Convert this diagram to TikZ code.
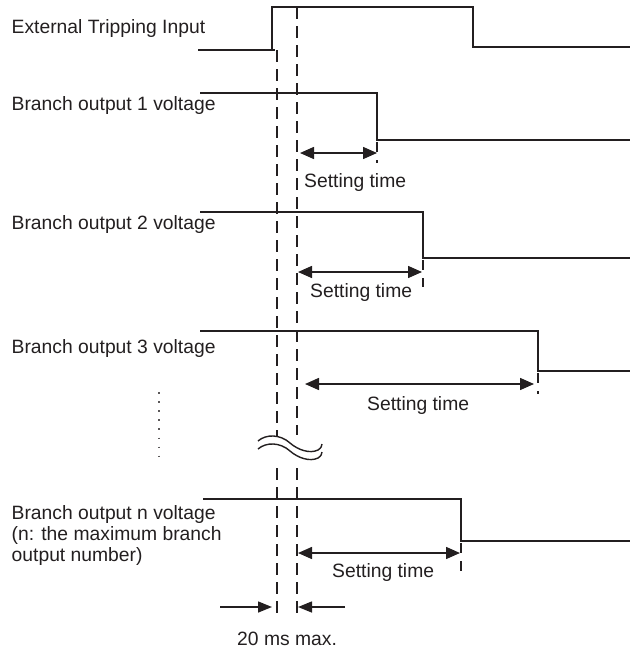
\documentclass[tikz,border=0pt]{standalone}
\usepackage{fontspec}
\setmainfont{Liberation Sans}
\usetikzlibrary{arrows.meta}
\definecolor{ink}{RGB}{35,31,32}
\begin{document}
\begin{tikzpicture}[x=1pt,y=-1pt,
  sig/.style={line width=1.5pt, draw=ink, line join=miter},
  guide/.style={line width=1.4pt, draw=ink, dash pattern=on 12pt off 7pt},
  tailline/.style={line width=1.3pt, draw=ink, dash pattern=on 10pt off 8pt, dash phase=0pt},
  dimarrow/.style={line width=1.5pt, draw=ink, {Triangle[length=14pt,width=12pt]}-{Triangle[length=14pt,width=12pt]}},
  onearrow/.style={line width=1.5pt, draw=ink, -{Triangle[length=14pt,width=11pt]}},
  lbl/.style={font=\fontsize{19.3}{21}\selectfont, text=ink, inner sep=0pt, anchor=base west},
  wave/.style={line width=1.4pt, draw=ink},
  dots/.style={line width=1.6pt, draw=ink!75, dash pattern=on 1.6pt off 7.5pt}]
\useasboundingbox (0,0) rectangle (637,653);

% labels
\node[lbl] (tIn) at (11.5,33) {External Tripping Input};
\node[lbl] (tB1) at (11.5,110) {Branch output 1 voltage};
\node[lbl] (tB2) at (11.5,229) {Branch output 2 voltage};
\node[lbl] (tB3) at (11.5,353) {Branch output 3 voltage};
\node[lbl] (tBn1) at (11.5,519) {Branch output n voltage};
\node[lbl] (tBn2) at (11.5,540) {(n: the maximum branch};
\node[lbl] (tBn3) at (11.5,561) {output number)};

% external tripping input
\coordinate (inA) at (198,50);
\coordinate (inB) at (275,50);
\coordinate (inR) at (272,50);
\coordinate (inH) at (473,7);
\coordinate (inE) at (630,47);
\draw[sig] (inA) -- (inB);
\draw[sig] (inR) |- (inH) |- (inE);

% guide lines
\coordinate (gL0) at (277,50);
\coordinate (gL1) at (277,437);
\coordinate (gL2) at (277,468);
\coordinate (gL3) at (277,615);
\coordinate (gR0) at (297,7);
\coordinate (gR1) at (297,435);
\coordinate (gR2) at (297,468);
\coordinate (gR3) at (297,615);
\draw[guide] (gL0) -- (gL1);
\draw[guide] (gL2) -- (gL3);
\draw[guide] (gR0) -- (gR1);
\draw[guide] (gR2) -- (gR3);

% break symbol
\draw[wave] (258,441) .. controls (266,434) and (280,434) .. (290,443)
  .. controls (298,450) and (310,454) .. (318,450)
  .. controls (321,448) and (322,446) .. (322,444);
\draw[wave] (258,449) .. controls (266,442) and (280,442) .. (290,451)
  .. controls (298,458) and (310,462) .. (318,458)
  .. controls (321,456) and (322,454) .. (322,452);

% vertical dots
\coordinate (d0) at (159,392);
\coordinate (d1) at (159,458);
\draw[dots] (d0) -- (d1);

% branch 1
\coordinate (b1A) at (200,93);
\coordinate (b1F) at (377,93);
\coordinate (b1E) at (630,140);
\draw[sig] (b1A) -- (b1F) |- (b1E);
\coordinate (t1a) at (377,142);
\coordinate (t1b) at (377,163);
\draw[tailline] (t1a) -- (t1b);
\coordinate (a1L) at (300,153);
\coordinate (a1R) at (377,153);
\draw[dimarrow] (a1L) -- (a1R);
\node[lbl] (s1) at (304,187) {Setting time};

% branch 2
\coordinate (b2A) at (200,212);
\coordinate (b2F) at (423,212);
\coordinate (b2E) at (630,258);
\draw[sig] (b2A) -- (b2F) |- (b2E);
\coordinate (t2a) at (423,260);
\coordinate (t2b) at (423,287);
\draw[tailline] (t2a) -- (t2b);
\coordinate (a2L) at (298,272);
\coordinate (a2R) at (422,272);
\draw[dimarrow] (a2L) -- (a2R);
\node[lbl] (s2) at (310,297) {Setting time};

% branch 3
\coordinate (b3A) at (200,331);
\coordinate (b3F) at (538,331);
\coordinate (b3E) at (630,371);
\draw[sig] (b3A) -- (b3F) |- (b3E);
\coordinate (t3a) at (538,373);
\coordinate (t3b) at (538,394);
\draw[tailline] (t3a) -- (t3b);
\coordinate (a3L) at (305,384);
\coordinate (a3R) at (534,384);
\draw[dimarrow] (a3L) -- (a3R);
\node[lbl] (s3) at (367,410) {Setting time};

% branch n
\coordinate (bnA) at (203,499);
\coordinate (bnF) at (461,499);
\coordinate (bnE) at (630,541);
\draw[sig] (bnA) -- (bnF) |- (bnE);
\coordinate (tna) at (461,543);
\coordinate (tnb) at (461,575);
\draw[tailline] (tna) -- (tnb);
\coordinate (anL) at (298,553);
\coordinate (anR) at (460,553);
\draw[dimarrow] (anL) -- (anR);
\node[lbl] (sn) at (332,577) {Setting time};

% 20 ms max
\coordinate (m1a) at (220,607);
\coordinate (m1b) at (272,607);
\coordinate (m2a) at (345,607);
\coordinate (m2b) at (298,607);
\draw[onearrow] (m1a) -- (m1b);
\draw[onearrow] (m2a) -- (m2b);
\node[lbl] (mx) at (237,645) {20 ms max.};
\end{tikzpicture}
\end{document}
